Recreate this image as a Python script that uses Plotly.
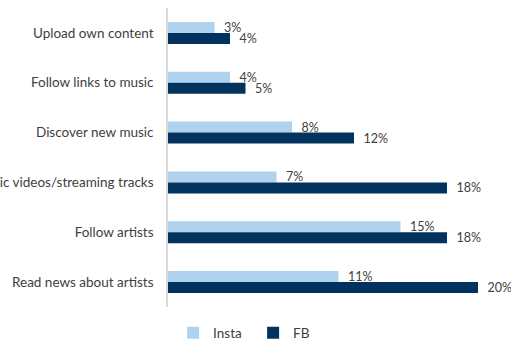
import plotly.graph_objects as go

categories = ["Upload own content", "Follow links to music", "Discover new music",
              "Watch music videos/streaming tracks", "Follow artists", "Read news about artists"]
insta = [3, 4, 8, 7, 15, 11]
fb = [4, 5, 12, 18, 18, 20]

font_fam = "Lato, 'Open Sans', sans-serif"
label_col = "#404040"
fig = go.Figure()
fig.add_trace(go.Bar(y=categories, x=insta, name="Insta", orientation="h",
                     marker=dict(color="#AFD3EF", line=dict(width=0)),
                     text=[f"  {v}%" for v in insta], textposition="outside",
                     constraintext="none",
                     cliponaxis=False, textfont=dict(color=label_col, size=12.5)))
fig.add_trace(go.Bar(y=categories, x=fb, name="FB", orientation="h",
                     marker=dict(color="#02335E", line=dict(width=0)),
                     text=[f"  {v}%" for v in fb], textposition="outside",
                     constraintext="none",
                     cliponaxis=False, textfont=dict(color=label_col, size=12.5)))

fig.update_layout(
    width=511, height=347,
    margin=dict(l=168, r=2, t=8, b=40, autoexpand=False),
    barmode="group", bargap=0.56, bargroupgap=0,
    plot_bgcolor="white", paper_bgcolor="white",
    font=dict(family=font_fam, size=13.5, color=label_col),
    showlegend=True,
    legend=dict(orientation="h", x=0.015, xanchor="left", xref="paper",
                y=-0.035, yanchor="top", font=dict(size=13.5, color=label_col),
                itemwidth=30, entrywidth=35, traceorder="normal"),
)
fig.update_xaxes(range=[0, 22], visible=False)
fig.update_yaxes(autorange="reversed", showline=True, linecolor="#D9D9D9",
                 linewidth=1.5, ticks="", ticklabelstandoff=10, automargin=False,
                 tickfont=dict(size=13.5, color=label_col))

fig.write_html("out.html", config={"displayModeBar": False},
               post_script="document.body.style.margin='0';document.body.style.overflow='hidden';")
